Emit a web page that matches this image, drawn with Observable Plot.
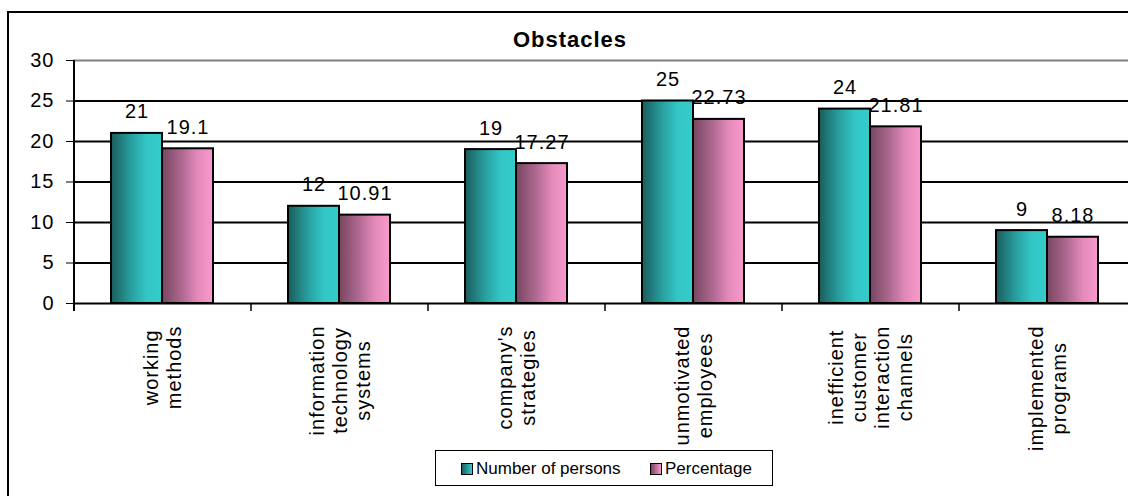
<!DOCTYPE html>
<html>
<head>
<meta charset="utf-8">
<script src="https://cdn.jsdelivr.net/npm/d3@7"></script>
<script src="https://cdn.jsdelivr.net/npm/@observablehq/plot@0.6"></script>
<style>
  html, body { margin: 0; padding: 0; background: #fff; }
  #wrap { position: relative; width: 1128px; height: 496px; overflow: hidden; background: #fff;
          font-family: "Liberation Sans", Arial, sans-serif; }
  #border { position: absolute; left: 7px; top: 11px; width: 1200px; height: 600px;
            border-left: 2px solid #000; border-top: 2px solid #000; box-sizing: border-box; }
  #chart { position: absolute; left: 0; top: 0; }
  #legend { position: absolute; left: 435px; top: 450px; width: 338px; height: 36px;
            border: 1px solid #000; box-sizing: border-box; background: #fff;
            font-size: 17px; color: #000; }
  .item { position: absolute; top: 8px; display: flex; align-items: center; height: 20px; }
  .sw { width: 10px; height: 10px; border: 1px solid #000; margin-right: 3px; }
</style>
</head>
<body>
<svg width="0" height="0" style="position:absolute">
  <defs>
    <linearGradient id="gTeal" x1="0" x2="1" y1="0" y2="0">
      <stop offset="0" stop-color="#1b5c5c"/>
      <stop offset="0.4" stop-color="#29a0a0"/>
      <stop offset="0.7" stop-color="#33c6c6"/>
      <stop offset="1" stop-color="#36cccc"/>
    </linearGradient>
    <linearGradient id="gPink" x1="0" x2="1" y1="0" y2="0">
      <stop offset="0" stop-color="#774660"/>
      <stop offset="0.4" stop-color="#b06a92"/>
      <stop offset="0.7" stop-color="#e48abb"/>
      <stop offset="1" stop-color="#f899cc"/>
    </linearGradient>
  </defs>
</svg>
<div id="wrap">
  <div id="border"></div>
  <div id="chart"></div>
  <div id="legend">
    <div class="item" style="left:25px"><div class="sw" style="background:linear-gradient(to right,#1b5c5c,#36cccc)"></div>Number of persons</div>
    <div class="item" style="left:214px"><div class="sw" style="background:linear-gradient(to right,#774660,#f899cc)"></div>Percentage</div>
  </div>
</div>
<script>
// Obstacles survey: number of respondents and share per obstacle
const title = "Obstacles";
const categories = [
  "working\nmethods",
  "information\ntechnology\nsystems",
  "company's\nstrategies",
  "unmotivated\nemployees",
  "inefficient\ncustomer\ninteraction\nchannels",
  "implemented\nprograms"
];
const persons = [21, 12, 19, 25, 24, 9];
const percentage = [19.1, 10.91, 17.27, 22.73, 21.81, 8.18];
const yTicks = [0, 5, 10, 15, 20, 25, 30];

const rows = categories.map((c, i) => ({category: c, persons: persons[i], percentage: percentage[i]}));

const FONT = '"Liberation Sans", Arial, sans-serif';
const step = 177, groupW = 102, half = groupW / 2;

// measure the longest line of each category label so the rotated block hangs from the axis
const ctx = document.createElement("canvas").getContext("2d");
ctx.font = `20px ${FONT}`;
const longest = categories.map(c => d3.max(c.split("\n"), s => ctx.measureText(s).width + s.length));

const labelMarks = categories.map((c, i) =>
  Plot.text([c], {
    x: d => d, frameAnchor: "bottom", text: d => d,
    rotate: -90, textAnchor: "middle", lineAnchor: "middle", lineHeight: 1.15,
    fontSize: 20, dy: 22 + longest[i] / 2
  })
);

const chart = Plot.plot({
  width: 1128,
  height: 496,
  marginTop: 60,
  marginBottom: 193,
  marginLeft: 73,
  marginRight: 0,
  style: {fontFamily: FONT, fontSize: "20px", color: "#000", background: "transparent", letterSpacing: "1px", overflow: "visible"},
  x: {domain: categories, range: [73, 73 + step * 6], paddingInner: (step - groupW) / step, paddingOuter: (step - groupW) / 2 / step, axis: null},
  y: {domain: [0, 30], ticks: yTicks, tickSize: 7, tickPadding: 12, label: null},
  marks: [
    Plot.ruleY(yTicks.filter(t => t > 0 && t < 30), {stroke: "#000", strokeWidth: 2}),
    Plot.ruleY([30], {stroke: "#808080", strokeWidth: 2}),
    Plot.ruleY([0], {stroke: "#000", strokeWidth: 2}),
    Plot.barY(rows, {x: "category", y: "persons", insetRight: half, fill: "url(#gTeal)", stroke: "#000", strokeWidth: 2}),
    Plot.barY(rows, {x: "category", y: "percentage", insetLeft: half, fill: "url(#gPink)", stroke: "#000", strokeWidth: 2}),
    Plot.text(rows, {x: "category", y: "persons", text: d => String(d.persons), dx: -half / 2, dy: -15, lineAnchor: "bottom", fontSize: 20}),
    Plot.text(rows, {x: "category", y: "percentage", text: d => String(d.percentage), dx: half / 2, dy: -15, lineAnchor: "bottom", fontSize: 20}),
    // category separators below the baseline
    Plot.ruleX(categories.slice(1), {x: d => d, y1: 0, y2: 0, insetBottom: -8, dx: -step / 2, stroke: "#000", strokeWidth: 1.5}),
    // value axis line
    Plot.ruleX(categories.slice(0, 1), {x: d => d, y1: 30, y2: 0, insetBottom: -8, dx: -step / 2, stroke: "#000", strokeWidth: 2}),
    ...labelMarks,
    Plot.text([title], {frameAnchor: "top", text: d => d, dx: -31, dy: -14, lineAnchor: "bottom", fontSize: 22, fontWeight: "bold"})
  ]
});
document.getElementById("chart").appendChild(chart);
</script>
</body>
</html>
